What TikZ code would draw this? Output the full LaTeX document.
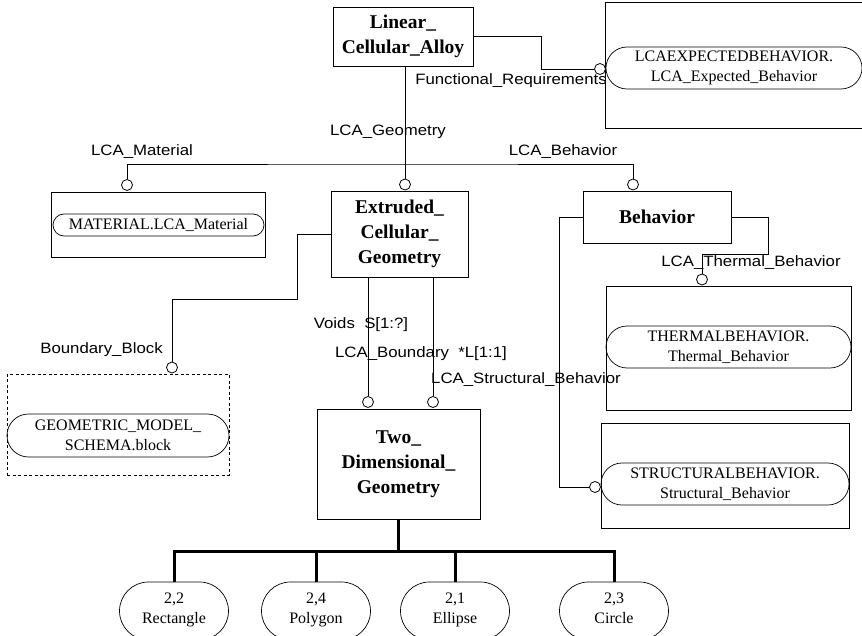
\documentclass[tikz,border=0pt]{standalone}
\usepackage{fontspec}
\setmainfont{Liberation Serif}
\setsansfont[FakeStretch=1.12]{Liberation Sans}
\usetikzlibrary{shapes.misc}

\tikzset{
  entity/.style={draw, line width=0.8pt, inner sep=0pt, align=center,
    font=\bfseries\fontsize{19.5}{25}\selectfont},
  frame/.style={draw, line width=0.8pt, inner sep=0pt},
  dframe/.style={frame, dashed, dash pattern=on 3pt off 2.5pt},
  pill/.style={rounded rectangle, draw, line width=0.7pt, inner sep=0pt,
    align=center, font=\fontsize{16}{20}\selectfont},
  role/.style={inner sep=0pt, font=\sffamily\fontsize{15}{18}\selectfont},
  ring/.style={circle, draw, line width=0.8pt, fill=white, minimum size=11pt, inner sep=0pt},
  conn/.style={line width=0.8pt},
  trunk/.style={line width=3pt}
}

\begin{document}
\begin{tikzpicture}[x=1pt,y=-1pt]
\useasboundingbox (0,0) rectangle (862,636);
\clip (0,0) rectangle (862,636);

% ---- entities ----
\node[entity, minimum width=140pt, minimum height=59pt] (lca) at (403,36.5) {Linear\_\\Cellular\_Alloy};
\node[entity, minimum width=137pt, minimum height=86pt] (extr) at (399.5,234) {Extruded\_\\Cellular\_\\Geometry};
\node[entity, minimum width=148pt, minimum height=52pt] (beh) at (657,217) {Behavior};
\node[entity, minimum width=163pt, minimum height=110pt] (tdg) at (398.5,464) {Two\_\\Dimensional\_\\Geometry};

% ---- referenced schema frames ----
\node[frame, minimum width=265pt, minimum height=126pt] (expbox) at (737.5,65) {};
\node[pill, minimum width=256pt, minimum height=42pt] (exp) at (734,68) {LCAEXPECTEDBEHAVIOR.\\LCA\_Expected\_Behavior};

\node[frame, minimum width=214pt, minimum height=65pt] (matbox) at (158,224.5) {};
\node[pill, minimum width=211pt, minimum height=22pt] (mat) at (158.5,225) {MATERIAL.LCA\_Material};

\node[dframe, minimum width=222pt, minimum height=101pt] (gmbox) at (118,424.5) {};
\node[pill, minimum width=222pt, minimum height=43pt] (gm) at (118,435.5) {GEOMETRIC\_MODEL\_\\SCHEMA.block};

\node[frame, minimum width=245pt, minimum height=124pt] (thbox) at (728.5,348) {};
\node[pill, minimum width=245pt, minimum height=42pt] (th) at (728.5,347) {THERMALBEHAVIOR.\\Thermal\_Behavior};

\node[frame, minimum width=248pt, minimum height=105pt] (sbbox) at (725,475.5) {};
\node[pill, minimum width=248pt, minimum height=42pt] (sb) at (725,484) {STRUCTURALBEHAVIOR.\\Structural\_Behavior};

% ---- select items ----
\node[pill, minimum width=109pt, minimum height=58pt] (p1) at (174,611) {2,2\\Rectangle\strut};
\node[pill, minimum width=109pt, minimum height=58pt] (p2) at (316,611) {2,4\\Polygon\strut};
\node[pill, minimum width=109pt, minimum height=58pt] (p3) at (455,611) {2,1\\Ellipse\strut};
\node[pill, minimum width=109pt, minimum height=58pt] (p4) at (614,611) {2,3\\Circle\strut};

% ---- attribute rings ----
\node[ring] (cfr) at (600,69) {};
\node[ring] (cmat) at (127,185) {};
\node[ring] (cgeo) at (405,184.5) {};
\node[ring] (cbeh) at (633,184.5) {};
\node[ring] (cbb) at (172,367.5) {};
\node[ring] (cvoid) at (368,402) {};
\node[ring] (clb) at (433,402) {};
\node[ring] (cth) at (702,279.5) {};
\node[ring] (csb) at (595,487) {};

% ---- bend points ----
\coordinate (frb) at (541,69);
\coordinate (bus) at (405,164);
\coordinate (bbb) at (297,299);
\coordinate (thb) at (768,254);
\coordinate (sbb) at (559,487);
\coordinate (tb) at (399,551);

% ---- connectors ----
\draw[conn] (lca.east) -| (frb) -- (cfr.west);
\draw[conn] (cgeo.north) -- (cgeo.north |- lca.south);
\draw[conn] (cmat.north) |- (bus) -| (cbeh.north);
\draw[conn] (extr.west) -| (bbb) -| (cbb.north);
\draw[conn] (cvoid.north) -- (cvoid.north |- extr.south);
\draw[conn] (clb.north) -- (clb.north |- extr.south);
\draw[conn] (beh.east) -| (thb) -| (cth.north);
\draw[conn] (beh.west) -| (sbb) -- (csb.west);

\draw[trunk] (tdg.south) -- (tdg.south |- tb);
\draw[trunk] (p1.north) |- (tb) -| (p4.north);
\draw[trunk] (p2.north) -- (p2.north |- tb);
\draw[trunk] (p3.north) -- (p3.north |- tb);

% ---- role labels ----
\node[role] (lfr) at (511,81) {Functional\_Requirements};
\node[role] (lgeo) at (388,132) {LCA\_Geometry};
\node[role] (lmat) at (142,152) {LCA\_Material};
\node[role] (lbeh) at (563,152) {LCA\_Behavior};
\node[role] (lth) at (751,263) {LCA\_Thermal\_Behavior};
\node[role] (lbb) at (101.5,350) {Boundary\_Block};
\node[role] (lvoid) at (361,325) {Voids\ \ S[1:?]};
\node[role] (llb) at (421,354) {LCA\_Boundary\ \ *L[1:1]};
\node[role] (lsb) at (526,380) {LCA\_Structural\_Behavior};
\end{tikzpicture}
\end{document}
